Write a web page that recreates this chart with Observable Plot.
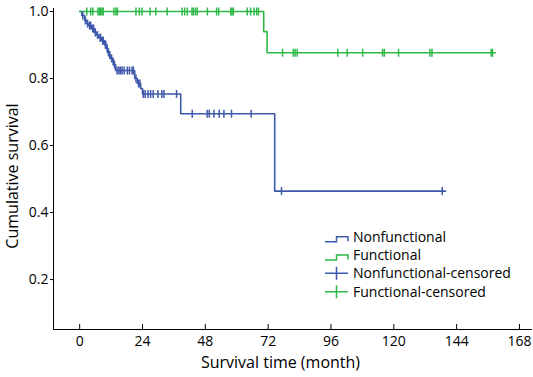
<!DOCTYPE html>
<html>
<head>
<meta charset="utf-8">
<script src="https://cdn.jsdelivr.net/npm/d3@7"></script>
<script src="https://cdn.jsdelivr.net/npm/@observablehq/plot@0.6"></script>
<style>
  html, body { margin: 0; padding: 0; background: #fff; }
  #chart svg { display: block; }
</style>
</head>
<body>
<div id="chart"></div>
<script>
// ---- Data ----
const xTicks = [0, 24, 48, 72, 96, 120, 144, 168];
const yTicks = [0.2, 0.4, 0.6, 0.8, 1.0];

// Nonfunctional: Kaplan-Meier step points (time in months, cumulative survival)
const blueTimes = [0, 0.8, 1.9, 2.8, 3.4, 4.6, 5.7, 6.5, 7.3, 8.4, 9.5, 10.2, 10.7, 11.3, 11.8, 12.5, 13.0, 13.7, 21.0, 22.0, 23.3, 24.0, 38.6, 74.5, 139.8];
const blueSurv  = [1, 0.988, 0.973, 0.964, 0.958, 0.949, 0.937, 0.930, 0.922, 0.913, 0.901, 0.890, 0.878, 0.870, 0.860, 0.851, 0.842, 0.824, 0.800, 0.785, 0.770, 0.754, 0.695, 0.464, 0.464];
const blueCensored = [1.2, 2.2, 3.0, 3.8, 4.2, 5.0, 5.3, 6.0, 6.8, 7.8, 8.0, 8.8, 9.0, 9.8, 10.0, 10.5, 11.0, 11.5, 12.2, 12.8, 13.3, 14.3, 15.0, 15.6, 16.2, 17.0, 18.2, 19.0, 20.0, 20.5, 21.5, 22.5, 23.0, 24.3, 25.0, 26.1, 27.1, 28.1, 29.9, 31.4, 32.2, 37.0, 43.0, 48.7, 49.5, 51.3, 53.3, 55.1, 58.0, 65.5, 77.1, 138.5];

// Functional
const greenTimes = [0, 70.3, 71.6, 158.8];
const greenSurv  = [1, 0.940, 0.877, 0.877];
const greenCensored = [2.7, 4.2, 5.0, 7.0, 7.5, 8.0, 8.5, 9.0, 13.1, 13.9, 14.4, 21.5, 22.8, 23.8, 26.9, 29.1, 33.4, 39.1, 40.1, 41.1, 42.9, 43.4, 44.2, 44.9, 48.8, 52.3, 53.1, 57.7, 58.2, 58.7, 64.0, 65.3, 66.6, 67.6, 68.3, 77.5, 81.6, 82.3, 83.1, 98.6, 102.2, 108.1, 115.7, 116.4, 121.8, 133.8, 134.6, 157.2, 157.7];

const groups = ["Nonfunctional", "Functional"];
const colors = ["#3E58AC", "#2EB848"];
const legendLabels = ["Nonfunctional", "Functional", "Nonfunctional-censored", "Functional-censored"];
const xLabel = "Survival time (month)";
const yLabel = "Cumulative survival";

// ---- Build tables ----
function survAt(times, surv, t) {
  let s = surv[0];
  for (let i = 0; i < times.length; i++) if (times[i] <= t) s = surv[i];
  return s;
}
const curves = [
  ...blueTimes.map((t, i) => ({group: groups[0], t, s: blueSurv[i]})),
  ...greenTimes.map((t, i) => ({group: groups[1], t, s: greenSurv[i]}))
];
const censored = [
  ...blueCensored.map(t => ({group: groups[0], t, s: survAt(blueTimes, blueSurv, t)})),
  ...greenCensored.map(t => ({group: groups[1], t, s: survAt(greenTimes, greenSurv, t)}))
];

const vbar = { draw(ctx, size) { const r = Math.sqrt(size / Math.PI); ctx.moveTo(0, -r); ctx.lineTo(0, r); } };
const font = "'Open Sans', sans-serif";

const chart = Plot.plot({
  width: 533,
  height: 377,
  marginLeft: 53,
  marginRight: 2,
  marginTop: 8,
  marginBottom: 48,
  style: {fontFamily: font, color: "#000", background: "#fff", overflow: "visible"},
  x: {domain: [-10, 172.6]},
  y: {domain: [0.051, 1.009]},
  color: {domain: groups, range: colors},
  marks: [
    Plot.frame({anchor: "left", stroke: "#000", strokeWidth: 1}),
    Plot.frame({anchor: "bottom", stroke: "#000", strokeWidth: 1}),
    Plot.axisY({ticks: yTicks, tickFormat: d3.format(".1f"), tickSize: 3, tickPadding: 2, fontSize: 14, label: null}),
    Plot.axisX({ticks: xTicks, tickSize: 5, dy: -5, text: null, label: null}),
    Plot.axisX({ticks: xTicks, tickSize: 0, tickPadding: 7, fontSize: 14, label: null}),
    Plot.text([xLabel], {frameAnchor: "bottom", textAnchor: "middle", dx: -12, dy: 38, fontSize: 16}),
    Plot.text([yLabel], {frameAnchor: "left", textAnchor: "middle", rotate: -90, dx: -41, dy: 7, fontSize: 16}),
    Plot.line(curves, {x: "t", y: "s", z: "group", stroke: "group", curve: "step-after", strokeWidth: 1.6}),
    Plot.dot(censored, {x: "t", y: "s", stroke: "group", symbol: vbar, r: 4, strokeWidth: 1.5, fill: "none"})
  ]
});
document.getElementById("chart").append(chart);

// ---- Legend (inside the SVG) ----
const svg = d3.select(chart);
const lg = svg.append("g").attr("font-family", font).attr("font-size", 14)
  .attr("fill", "#000").attr("text-anchor", "start");
legendLabels.forEach((label, i) => {
  const b = 241.7 + i * 18.33;
  const c = colors[i % 2];
  if (i < 2) {
    lg.append("path")
      .attr("d", `M325,${b} H336.5 V${b - 5} H348 V${b - 0.5}`)
      .attr("fill", "none").attr("stroke", c).attr("stroke-width", 1.5);
  } else {
    lg.append("path")
      .attr("d", `M325,${b - 5} H348 M336.5,${b - 11.5} V${b + 1.5}`)
      .attr("fill", "none").attr("stroke", c).attr("stroke-width", 1.5);
  }
  lg.append("text").attr("x", 353).attr("y", b).text(label);
});
</script>
</body>
</html>
